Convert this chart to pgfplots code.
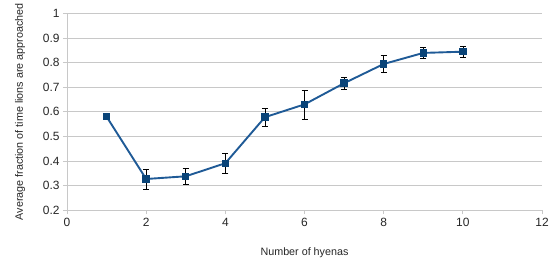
\documentclass[border=0pt]{standalone}
\usepackage{pgfplots}
\pgfplotsset{compat=1.18}
\usepackage{fontspec}
\setmainfont{Liberation Sans}
\definecolor{lineblue}{HTML}{1F5A96}
\definecolor{markblue}{HTML}{0A4478}
\definecolor{gridgray}{HTML}{C8C8C8}
\begin{document}
\begin{tikzpicture}
\begin{axis}[
  name=ax,
  scale only axis,
  width=475bp, height=197bp,
  xmin=0, xmax=12, ymin=0.2, ymax=1,
  xtick={0,2,...,12},
  ytick={0.2,0.3,...,1.0},
  yticklabels={0.2,0.3,0.4,0.5,0.6,0.7,0.8,0.9,1},
  axis line style={draw=gridgray, line width=0.8pt},
  axis x line*=bottom, axis y line*=left,
  tick style={draw=gridgray, line width=0.8pt},
  tick align=outside,
  major tick length=4bp,
  ymajorgrids,
  grid style={draw=gridgray, line width=0.8pt},
  /pgf/number format/assume math mode=true,
  tick label style={font=\fontsize{12}{14}\selectfont, text=black!85},
  label style={font=\fontsize{10.8}{12}\selectfont, text=black!85},
  xlabel={Number of hyenas},
  ylabel={Average fraction of time lions are approached},
  xlabel style={at={(rel axis cs:0.5,0)}, anchor=north, yshift=-34bp},
  ylabel style={at={(rel axis cs:0,0.5)}, anchor=center, yshift=47bp},
  clip=false,
]
\addplot[lineblue, line width=1.9pt, mark=square*, mark size=2.8pt,
  mark options={fill=markblue, draw=markblue},
  error bars/.cd, y dir=both, y explicit,
  error bar style={black, line width=0.6pt},
  error mark options={black, line width=0.6pt, mark size=3bp, rotate=90}]
table[x=x, y=y, y error=e] {
x y e
1 0.580 0.011
2 0.327 0.040
3 0.338 0.033
4 0.391 0.040
5 0.578 0.037
6 0.630 0.059
7 0.716 0.023
8 0.794 0.035
9 0.839 0.022
10 0.844 0.023
};
\coordinate (bl) at (rel axis cs:0,0);
\coordinate (tr) at (rel axis cs:1,1);
\end{axis}
\path ([shift={(-67bp,-51bp)}]bl) rectangle ([shift={(11bp,12bp)}]tr);
\end{tikzpicture}
\end{document}
